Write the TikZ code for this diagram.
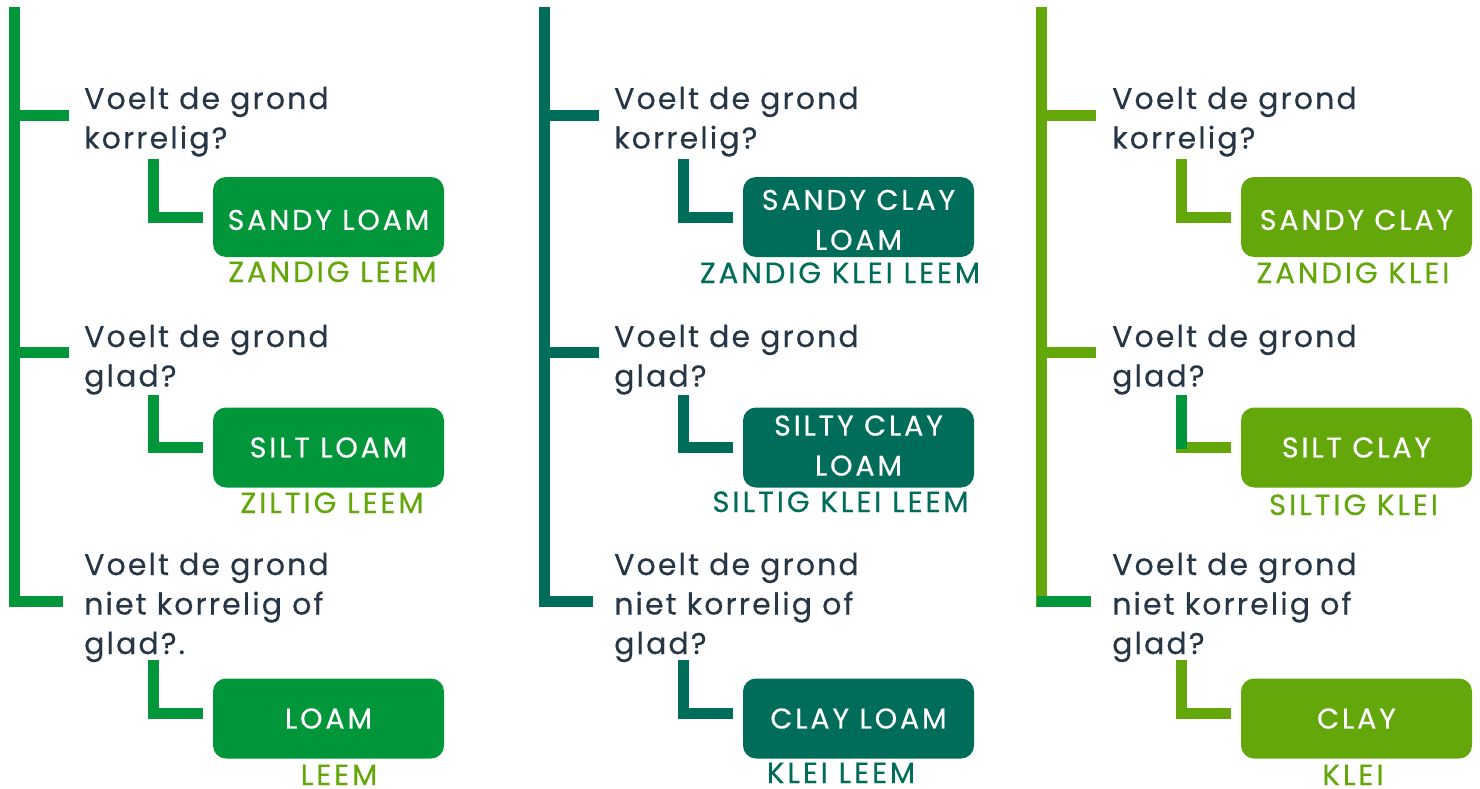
\documentclass[tikz,border=0pt]{standalone}
\usepackage{fontspec}
\newfontfamily\qfont{Poppins}[LetterSpace=7,FakeBold=0.4]
\newfontfamily\bfont{Poppins}[LetterSpace=10,FakeBold=0.4]
\definecolor{cgreen}{HTML}{009639}
\definecolor{clight}{HTML}{64A70B}
\definecolor{cteal}{HTML}{006C5A}
\definecolor{ctext}{HTML}{263646}
\tikzset{
  bar/.style={line width=11pt, line cap=butt, line join=miter},
  question/.style={anchor=base west, inner sep=0pt, text=ctext,
    font=\qfont\fontsize{30}{39.5}\selectfont},
  soilbox/.style={rounded corners=13pt, minimum width=231pt, minimum height=80pt,
    inner sep=0pt, text=white, align=center, font=\bfont\fontsize{28.5}{40}\selectfont},
  dutch/.style={anchor=base, inner sep=0pt, font=\bfont\fontsize{29.2}{34}\selectfont},
}
\newcommand{\qtxt}[1]{\parbox[t]{340pt}{\raggedright #1}}
\newcommand{\lowtxt}{\rule{0pt}{26pt}}
\newcommand{\hightxt}{\rule[-4pt]{0pt}{4pt}}
\begin{document}
\begin{tikzpicture}[x=1pt,y=-1pt]
\useasboundingbox (0,0) rectangle (1480,789);
% ---------------- column 1 ----------------
\coordinate (t1a) at (14.5,7);
\coordinate (t1b) at (14.5,601);
\coordinate (t1c) at (63,601);
\draw[bar,cgreen] (t1a) -- (t1b) -- (t1c);
\draw[bar,cgreen] (14.5,115.5) coordinate (t1d) -- (69,115.5) coordinate (t1e);
\draw[bar,cgreen] (14.5,352) coordinate (t1f) -- (69,352) coordinate (t1g);
\node[question] (q11) at (84,109) {\qtxt{Voelt de grond\\korrelig?}};
\node[question] (q12) at (84,347) {\qtxt{Voelt de grond\\glad?}};
\node[question] (q13) at (84,575) {\qtxt{Voelt de grond\\niet korrelig of\\glad?.}};
\node[soilbox,fill=cgreen] (b11) at (328.5,217) {\lowtxt SANDY LOAM};
\node[soilbox,fill=cgreen] (b12) at (328.5,447.5) {SILT LOAM};
\node[soilbox,fill=cgreen] (b13) at (328.5,718.5) {LOAM};
\coordinate (k11) at (153.5,159);
\coordinate (k12) at (153.5,395);
\coordinate (k13) at (153.5,660);
\draw[bar,cgreen] (k11) |- ([xshift=-10pt]b11.west);
\draw[bar,cgreen] (k12) |- ([xshift=-10pt]b12.west);
\draw[bar,cgreen] (k13) |- ([xshift=-10pt,yshift=5pt]b13.west);
\node[dutch,text=clight] (l11) at (332.5,282) {ZANDIG LEEM};
\node[dutch,text=clight] (l12) at (332,513) {ZILTIG LEEM};
\node[dutch,text=clight] (l13) at (339,785) {LEEM};
% ---------------- column 2 ----------------
\coordinate (t2a) at (544.5,7);
\coordinate (t2b) at (544.5,601);
\coordinate (t2c) at (593,601);
\draw[bar,cteal] (t2a) -- (t2b) -- (t2c);
\draw[bar,cteal] (544.5,115.5) coordinate (t2d) -- (599,115.5) coordinate (t2e);
\draw[bar,cteal] (544.5,352) coordinate (t2f) -- (599,352) coordinate (t2g);
\node[question] (q21) at (614,109) {\qtxt{Voelt de grond\\korrelig?}};
\node[question] (q22) at (614,347) {\qtxt{Voelt de grond\\glad?}};
\node[question] (q23) at (614,575) {\qtxt{Voelt de grond\\niet korrelig of\\glad?}};
\node[soilbox,fill=cteal] (b21) at (858.5,217) {\lowtxt SANDY CLAY\\LOAM};
\node[soilbox,fill=cteal] (b22) at (858.5,447.5) {SILTY CLAY\\LOAM\hightxt};
\node[soilbox,fill=cteal] (b23) at (858.5,718.5) {CLAY LOAM};
\coordinate (k21) at (683.5,159);
\coordinate (k22) at (683.5,395);
\coordinate (k23) at (683.5,660);
\draw[bar,cteal] (k21) |- ([xshift=-10pt]b21.west);
\draw[bar,cteal] (k22) |- ([xshift=-10pt]b22.west);
\draw[bar,cteal] (k23) |- ([xshift=-10pt,yshift=5pt]b23.west);
\node[dutch,text=cteal] (l21) at (840,283) {ZANDIG KLEI LEEM};
\node[dutch,text=cteal] (l22) at (840.5,512) {SILTIG KLEI LEEM};
\node[dutch,text=cteal] (l23) at (841,783) {KLEI LEEM};
% ---------------- column 3 ----------------
\coordinate (t3a) at (1041.5,7);
\coordinate (t3b) at (1041.5,601.5);
\coordinate (t3c) at (1091,601.5);
\draw[bar,clight] (t3a) -- (t3b) -- (t3c);
\coordinate (t3z) at (1036.5,601.5);
\draw[bar,cgreen] (t3z) -- (t3c);
\draw[bar,clight] (1041.5,115.5) coordinate (t3d) -- (1096,115.5) coordinate (t3e);
\draw[bar,clight] (1041.5,352) coordinate (t3f) -- (1096,352) coordinate (t3g);
\node[question] (q31) at (1112,109) {\qtxt{Voelt de grond\\korrelig?}};
\node[question] (q32) at (1112,347) {\qtxt{Voelt de grond\\glad?}};
\node[question] (q33) at (1112,575) {\qtxt{Voelt de grond\\niet korrelig of\\glad?}};
\node[soilbox,fill=clight] (b31) at (1356.5,217) {\lowtxt SANDY CLAY};
\node[soilbox,fill=clight] (b32) at (1356.5,447.5) {SILT CLAY};
\node[soilbox,fill=clight] (b33) at (1356.5,718.5) {CLAY};
\coordinate (k31) at (1181.5,159);
\coordinate (k32) at (1181.5,395);
\coordinate (k33) at (1181.5,660);
\coordinate (k32e) at (1181.5,449);
\draw[bar,clight] (k31) |- ([xshift=-10pt]b31.west);
\draw[bar,clight] (k32) |- ([xshift=-10pt]b32.west);
\draw[bar,cgreen] (k32) -- (k32e);
\draw[bar,clight] (k33) |- ([xshift=-10pt,yshift=5pt]b33.west);
\node[dutch,text=clight] (l31) at (1353,283) {ZANDIG KLEI};
\node[dutch,text=clight] (l32) at (1353.5,515) {SILTIG KLEI};
\node[dutch,text=clight] (l33) at (1353,785) {KLEI};
\end{tikzpicture}
\end{document}
